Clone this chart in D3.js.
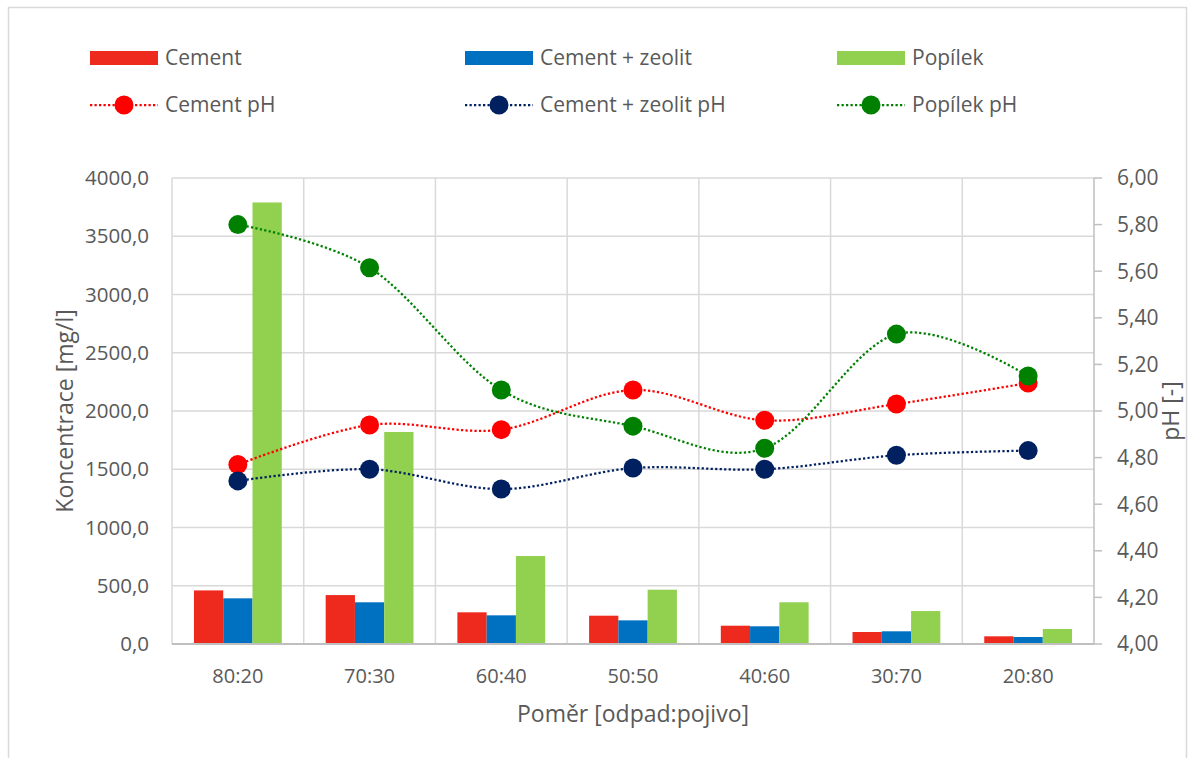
<!DOCTYPE html>
<html>
<head>
<meta charset="utf-8">
<script src="https://cdn.jsdelivr.net/npm/d3@7"></script>
<style>
  body { margin: 0; background: #fff; }
  text { font-family: "Open Sans", sans-serif; fill: #595959; }
</style>
</head>
<body>
<svg id="chart" width="1190" height="758"></svg>
<script>
// Ratio of waste to binder
const categories = ["80:20", "70:30", "60:40", "50:50", "40:60", "30:70", "20:80"];

// Leachate concentration [mg/l]
const cementConc  = [460, 420, 272, 243, 157, 103, 66];
const zeoliteConc = [392, 358, 246, 203, 152, 109, 60];
const ashConc     = [3790, 1820, 755, 466, 358, 283, 129];

// Leachate pH [-]
const cementPH  = [4.77, 4.94, 4.92, 5.09, 4.96, 5.03, 5.12];
const zeolitePH = [4.70, 4.75, 4.665, 4.755, 4.75, 4.81, 4.83];
const ashPH     = [5.80, 5.615, 5.09, 4.935, 4.84, 5.33, 5.15];

// Axis ticks
const concTicks = [0, 500, 1000, 1500, 2000, 2500, 3000, 3500, 4000];
const phTicks = [4.0, 4.2, 4.4, 4.6, 4.8, 5.0, 5.2, 5.4, 5.6, 5.8, 6.0];

const barSeries = [
  { name: "Cement", values: cementConc, color: "#EE2A1E" },
  { name: "Cement + zeolit", values: zeoliteConc, color: "#0070C0" },
  { name: "Popílek", values: ashConc, color: "#92D050" }
];
const lineSeries = [
  { name: "Cement pH", values: cementPH, color: "#FF0000" },
  { name: "Cement + zeolit pH", values: zeolitePH, color: "#002060" },
  { name: "Popílek pH", values: ashPH, color: "#008000" }
];

const svg = d3.select("#chart");
const plot = { left: 172, right: 1094, top: 178, bottom: 644 };

const x = d3.scaleBand().domain(categories).range([plot.left, plot.right]).paddingInner(0).paddingOuter(0);
const xSub = d3.scaleBand().domain(barSeries.map(s => s.name)).range([0, x.bandwidth()])
  .paddingInner(0).paddingOuter(0.75);
const y = d3.scaleLinear().domain([0, 4000]).range([plot.bottom, plot.top]);
const yPH = d3.scaleLinear().domain([4, 6]).range([plot.bottom, plot.top]);

// Outer frame
svg.append("rect").attr("x", 8.5).attr("y", 7.5).attr("width", 1178).attr("height", 760)
  .attr("fill", "#fff").attr("stroke", "#d9d9d9").attr("stroke-width", 1.5);

// Horizontal gridlines
svg.append("g").selectAll("line").data(concTicks.filter(d => d > 0)).join("line")
  .attr("x1", plot.left).attr("x2", plot.right)
  .attr("y1", d => y(d)).attr("y2", d => y(d))
  .attr("stroke", "#d9d9d9").attr("stroke-width", 1.5);

// Vertical gridlines at category boundaries
svg.append("g").selectAll("line").data(categories).join("line")
  .attr("x1", d => x(d)).attr("x2", d => x(d))
  .attr("y1", plot.top).attr("y2", plot.bottom)
  .attr("stroke", "#d9d9d9").attr("stroke-width", 1.5);

// Bars
const barG = svg.append("g");
barSeries.forEach(s => {
  barG.append("g").selectAll("rect").data(categories).join("rect")
    .attr("x", (c) => x(c) + xSub(s.name))
    .attr("width", xSub.bandwidth())
    .attr("y", (c, i) => y(s.values[i]))
    .attr("height", (c, i) => y(0) - y(s.values[i]))
    .attr("fill", s.color);
});

// Axis lines
svg.append("line").attr("x1", plot.left).attr("x2", plot.right).attr("y1", plot.bottom).attr("y2", plot.bottom)
  .attr("stroke", "#bfbfbf").attr("stroke-width", 2);
svg.append("line").attr("x1", plot.right).attr("x2", plot.right).attr("y1", plot.top).attr("y2", plot.bottom)
  .attr("stroke", "#bfbfbf").attr("stroke-width", 1.5);

// Left axis labels
const fmt1 = d3.format(".1f");
svg.append("g").selectAll("text").data(concTicks).join("text")
  .attr("x", 149).attr("y", d => y(d)).attr("dy", "0.35em")
  .attr("text-anchor", "end").attr("font-size", 20.5)
  .text(d => fmt1(d).replace(".", ","));

// Right axis ticks and labels
const fmt2 = d3.format(".2f");
svg.append("g").selectAll("line").data(phTicks).join("line")
  .attr("x1", plot.right).attr("x2", plot.right + 8)
  .attr("y1", d => yPH(d)).attr("y2", d => yPH(d))
  .attr("stroke", "#bfbfbf").attr("stroke-width", 1.5);
svg.append("g").selectAll("text").data(phTicks).join("text")
  .attr("x", 1117).attr("y", d => yPH(d)).attr("dy", "0.35em")
  .attr("text-anchor", "start").attr("font-size", 21)
  .text(d => fmt2(d).replace(".", ","));

// Category labels
svg.append("g").selectAll("text").data(categories).join("text")
  .attr("x", d => x(d) + x.bandwidth() / 2).attr("y", 676).attr("dy", "0.35em")
  .attr("text-anchor", "middle").attr("font-size", 20)
  .text(d => d);

// Axis titles
svg.append("text").attr("transform", "translate(73,411) rotate(-90)")
  .attr("text-anchor", "middle").attr("font-size", 23).text("Koncentrace [mg/l]");
svg.append("text").attr("transform", "translate(1179,411) rotate(-90)")
  .attr("text-anchor", "middle").attr("font-size", 23).text("pH [-]");
svg.append("text").attr("x", 633).attr("y", 722)
  .attr("text-anchor", "middle").attr("font-size", 23).text("Poměr [odpad:pojivo]");

// pH lines, smoothed
const line = d3.line()
  .x((d, i) => x(categories[i]) + x.bandwidth() / 2)
  .y(d => yPH(d))
  .curve(d3.curveCardinal.tension(0));
const lineG = svg.append("g");
lineSeries.forEach(s => {
  lineG.append("path").datum(s.values)
    .attr("d", line).attr("fill", "none")
    .attr("stroke", s.color).attr("stroke-width", 2.25)
    .attr("stroke-dasharray", "2.25,2.25");
});
lineSeries.forEach(s => {
  lineG.append("g").selectAll("circle").data(s.values).join("circle")
    .attr("cx", (d, i) => x(categories[i]) + x.bandwidth() / 2)
    .attr("cy", d => yPH(d))
    .attr("r", 9.5).attr("fill", s.color);
});

// Legend
const legendCols = [90, 465, 837];
const legend = svg.append("g");
barSeries.forEach((s, i) => {
  const lx = legendCols[i];
  legend.append("rect").attr("x", lx).attr("y", 51).attr("width", 68).attr("height", 14).attr("fill", s.color);
  legend.append("text").attr("x", lx + 75).attr("y", 58).attr("dy", "0.35em")
    .attr("font-size", 21).text(s.name);
});
lineSeries.forEach((s, i) => {
  const lx = legendCols[i];
  legend.append("line").attr("x1", lx).attr("x2", lx + 68).attr("y1", 105).attr("y2", 105)
    .attr("stroke", s.color).attr("stroke-width", 2.25).attr("stroke-dasharray", "2.25,2.25");
  legend.append("circle").attr("cx", lx + 34).attr("cy", 105).attr("r", 9.5).attr("fill", s.color);
  legend.append("text").attr("x", lx + 75).attr("y", 105).attr("dy", "0.35em")
    .attr("font-size", 21).text(s.name);
});
</script>
</body>
</html>
